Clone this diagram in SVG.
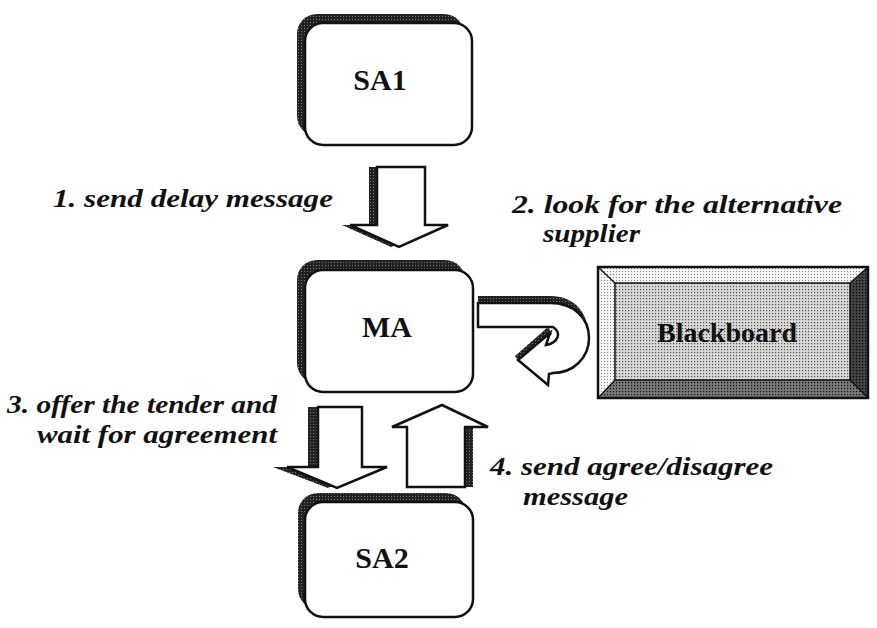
<svg xmlns="http://www.w3.org/2000/svg" width="877" height="628" viewBox="0 0 877 628">
<defs>
<pattern id="hatch" width="3" height="3" patternUnits="userSpaceOnUse">
<rect width="3" height="3" fill="#222"/>
<rect x="1" y="1" width="1" height="1" fill="#777"/>
</pattern>
<pattern id="midDots" width="3" height="3" patternUnits="userSpaceOnUse">
<rect width="3" height="3" fill="#d8d8d8"/>
<rect x="1" y="1" width="1.2" height="1.2" fill="#555"/>
</pattern>
<pattern id="lightDots" width="3" height="3" patternUnits="userSpaceOnUse">
<rect width="3" height="3" fill="#f4f4f4"/>
<rect x="1" y="1" width="1" height="1" fill="#888"/>
</pattern>
<pattern id="darkDots" width="3" height="3" patternUnits="userSpaceOnUse">
<rect width="3" height="3" fill="#777"/>
<rect x="1" y="1" width="1.2" height="1.2" fill="#111"/>
</pattern>
<pattern id="darkerDots" width="3" height="3" patternUnits="userSpaceOnUse">
<rect width="3" height="3" fill="#444"/>
<rect x="1" y="1" width="1.2" height="1.2" fill="#000"/>
</pattern>
</defs>
<style>
.shadow{fill:url(#hatch);stroke:none}
.box{fill:#fff;stroke:#111;stroke-width:2.5}
.arrow{fill:#fff;stroke:#111;stroke-width:2.5;stroke-linejoin:miter}
.name{font-family:"Liberation Serif",serif;font-weight:bold;font-size:30px;fill:#111;text-anchor:middle}
.lbl{font-family:"Liberation Serif",serif;font-weight:bold;font-style:italic;font-size:26px;fill:#111}
</style>
<rect width="877" height="628" fill="#fff"/>

<g id="SA1">
<rect class="shadow" x="297" y="14" width="167" height="122" rx="20"/>
<rect class="box" x="305" y="23" width="167" height="122" rx="18"/>
<text class="name" x="380" y="90">SA1</text>
</g>

<g id="MA">
<rect class="shadow" x="297" y="260" width="168" height="123" rx="20"/>
<rect class="box" x="305" y="270" width="168" height="122" rx="18"/>
<text class="name" x="387" y="337">MA</text>
</g>

<g id="SA2">
<rect class="shadow" x="298" y="493" width="168" height="116" rx="20"/>
<rect class="box" x="305" y="502" width="168" height="115" rx="18"/>
<text class="name" x="382" y="568">SA2</text>
</g>

<g id="Blackboard">
<rect x="598" y="267" width="270" height="131" fill="url(#midDots)"/>
<polygon points="598,267 868,267 850,283 615,283" fill="url(#lightDots)"/>
<polygon points="598,267 615,283 615,380 598,398" fill="url(#lightDots)"/>
<polygon points="868,267 868,398 850,380 850,283" fill="url(#darkerDots)"/>
<polygon points="598,398 615,380 850,380 868,398" fill="url(#darkDots)"/>
<rect x="615" y="283" width="235" height="97" fill="none" stroke="#111" stroke-width="1.5"/>
<path d="M598,267 L615,283 M868,267 L850,283 M598,398 L615,380 M868,398 L850,380" stroke="#111" stroke-width="1.2"/>
<rect x="598" y="267" width="270" height="131" fill="none" stroke="#111" stroke-width="2.5"/>
<text class="name" x="727" y="342" style="font-size:28px">Blackboard</text>
</g>

<g id="connectors">
<g id="arrow1">
<path class="shadow" d="M369,167 H417 V225 H440 L391,247 L342,225 H369 Z"/>
<path class="arrow" d="M377,167 H425 V225 H448 L399,247 L350,225 H377 Z"/>
</g>
<g id="arrow2">
<path class="shadow" d="M478,296 H550 C574,296 588,312 588,334 C588,350 580,360 570,366 L560,340 C562,333 558,326 553,320 H478 Z"/>
<path class="shadow" d="M515,356 L548,327 L552,334 L519,362 Z"/>
<path class="arrow" d="M478,303 H550 C574,303 589,318 589,338 C589,358 573,373 553,373 L549,374 L548,385 L518,360 L550,333 L546,345 C558,343 562,333 553,327 H478 Z"/>
</g>
<g id="arrow3">
<path class="shadow" d="M308,407 H352 V467 H377 L328,488 L273,467 H308 Z"/>
<path class="arrow" d="M318,407 H362 V467 H387 L337,488 L287,467 H318 Z"/>
</g>
<g id="arrow4">
<rect class="shadow" x="462" y="427" width="11" height="60"/>
<path class="arrow" d="M407,487 V427 H392 L442,405 L488,427 H465 V487 Z"/>
</g>
</g>

<g id="labels">
<text class="lbl" x="53" y="207" textLength="280" lengthAdjust="spacingAndGlyphs">1. send delay message</text>
<text class="lbl" x="512" y="213" textLength="330" lengthAdjust="spacingAndGlyphs">2. look for the alternative</text>
<text class="lbl" x="543" y="242" textLength="97" lengthAdjust="spacingAndGlyphs">supplier</text>
<text class="lbl" x="7" y="413" textLength="270" lengthAdjust="spacingAndGlyphs">3. offer the tender and</text>
<text class="lbl" x="37" y="443" textLength="240" lengthAdjust="spacingAndGlyphs">wait for agreement</text>
<text class="lbl" x="490" y="475" textLength="283" lengthAdjust="spacingAndGlyphs">4. send agree/disagree</text>
<text class="lbl" x="523" y="505" textLength="105" lengthAdjust="spacingAndGlyphs">message</text>
</g>
</svg>
